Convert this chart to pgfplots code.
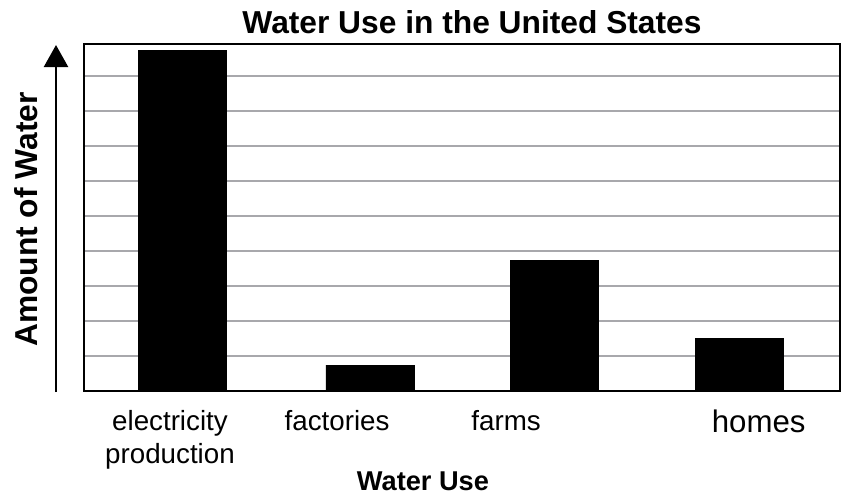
\documentclass[border=0pt]{standalone}
\usepackage{fontspec}
\setmainfont{Liberation Sans}
\usepackage{pgfplots}
\pgfplotsset{compat=1.18}
\usetikzlibrary{arrows.meta}
\definecolor{gridgray}{RGB}{168,168,172}
\begin{document}
\begin{tikzpicture}
\begin{axis}[
  scale only axis, width=567pt, height=260.25pt,
  xmin=-0.528, xmax=3.543, ymin=0, ymax=9.914,
  axis line style={line width=2.2pt},
  ytick={1,...,9}, yticklabels={},
  ymajorgrids, grid style={gridgray, line width=2pt},
  major tick length=0pt,
  xtick={-0.065,0.835,1.745,3.105},
  xticklabels={electricity\\production, factories, farms, {\fontsize{23.4}{28}\selectfont homes}},
  xticklabel style={align=center, font=\fontsize{20.8}{24.75}\selectfont, anchor=north, yshift=-11pt},
]
\addplot[ybar, bar width=66pt, fill=black, draw=black] coordinates {(0,9.74) (1.012,0.74) (2.006,3.74) (3,1.51)};
\end{axis}
\draw[line width=1.8pt, -{Triangle[width=18pt,length=16.5pt]}] ([shift={(-21pt,-0.75pt)}]current axis.south west) -- ([shift={(-21pt,259.5pt)}]current axis.south west);
\node[anchor=base, font=\fontsize{23.8}{28}\selectfont\bfseries] at ([shift={(291pt,268.5pt)}]current axis.south west) {Water Use in the United States};
\node[anchor=base, font=\fontsize{20.4}{24}\selectfont\bfseries] at ([shift={(254.25pt,-74.25pt)}]current axis.south west) {Water Use};
\node[rotate=90, anchor=center, font=\fontsize{23.8}{28}\selectfont\bfseries] at ([shift={(-43.5pt,128.6pt)}]current axis.south west) {Amount of Water};
\pgfresetboundingbox
\path ([shift={(-63pt,-78pt)}]current axis.south west) rectangle ([shift={(5.25pt,33pt)}]current axis.north east);
\end{tikzpicture}
\end{document}
